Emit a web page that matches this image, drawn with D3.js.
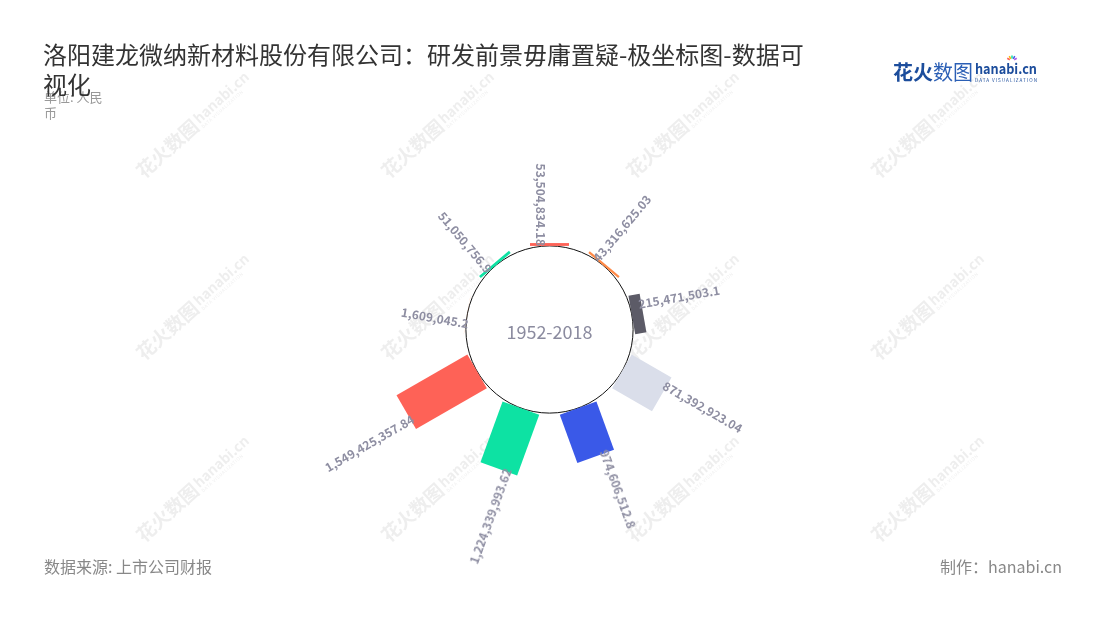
<!DOCTYPE html>
<html>
<head>
<meta charset="utf-8">
<script src="https://cdn.jsdelivr.net/npm/d3@7"></script>
<style>
  html, body { margin: 0; padding: 0; background: #fff; }
  svg { display: block; font-family: "Noto Sans CJK SC", "Noto Sans", sans-serif; }
</style>
</head>
<body>
<svg id="chart" width="1100" height="620"></svg>
<script>
// ---- data ----
const categories = ["c1", "c2", "c3", "c4", "c5", "c6", "c7", "c8", "c9"];
const values = [53504834.18, 43316625.03, 215471503.1, 871392923.04, 974606512.8,
                1224339993.62, 1549425357.84, 1609045.2, 51050756.9];
const colors = ["#fe6257", "#ff8a48", "#5c5b67", "#dadeea", "#3a59e8",
                "#0de2a3", "#fe6257", "#ff8a48", "#0de2a3"];
const titleLines = ["洛阳建龙微纳新材料股份有限公司：研发前景毋庸置疑-极坐标图-数据可", "视化"];
const subtitleLines = ["单位: 人民", "币"];
const centerLabel = "1952-2018";
const sourceText = "数据来源: 上市公司财报";
const makerText = "制作：hanabi.cn";

// ---- layout ----
const W = 1100, H = 620;
const cx = 549.5, cy = 329.5, innerR = 83.6;
const barWidth = 39;
const labelGap = 3, labelLateral = -9;

const svg = d3.select("#chart");

// watermarks
const wmX = [192, 437, 682, 927], wmY = [128, 310, 492];
const wm = svg.append("g").attr("opacity", 0.4);
wmY.forEach(y => wmX.forEach(x => {
  const g = wm.append("g").attr("transform", `translate(${x},${y}) rotate(-42)`);
  g.append("text").attr("x", -70).attr("y", 6).attr("font-size", 19).attr("font-weight", "bold")
    .attr("fill", "#d5d5d5").text("花火数图");
  g.append("text").attr("x", 8).attr("y", 2).attr("font-size", 14).attr("font-weight", "bold")
    .attr("fill", "#d5d5d5").text("hanabi.cn");
  g.append("text").attr("x", 8).attr("y", 8).attr("font-size", 4.5)
    .attr("fill", "#d5d5d5").attr("letter-spacing", 0.6).text("DATA VISUALIZATION");
}));

// scales
const angle = d3.scaleBand().domain(categories).range([0, 360]);
const radius = d3.scaleLinear().domain([0, 2e9]).range([innerR, innerR + 105.6]);

const data = categories.map((c, i) => ({ c, v: values[i], color: colors[i] }));

// center circle
svg.append("circle").attr("cx", cx).attr("cy", cy).attr("r", innerR)
  .attr("fill", "#fff").attr("stroke", "#111").attr("stroke-width", 1);

// bars
const bars = svg.append("g").attr("transform", `translate(${cx},${cy})`);
bars.selectAll("rect").data(data).join("rect")
  .attr("transform", d => `rotate(${angle(d.c)})`)
  .attr("x", -barWidth / 2)
  .attr("y", d => -radius(d.v))
  .attr("width", barWidth)
  .attr("height", d => radius(d.v) - radius(0))
  .attr("fill", d => d.color);

// labels
const fmt = d3.format(",");
const labels = svg.append("g").attr("transform", `translate(${cx},${cy})`);
labels.selectAll("text").data(data).join("text")
  .attr("transform", d => {
    const a = angle(d.c);
    const outward = a > 0 && a < 180;
    const r = radius(d.v) - labelGap;
    return `rotate(${a}) translate(${labelLateral},${-r}) rotate(${outward ? -90 : 90})`;
  })
  .attr("text-anchor", d => { const a = angle(d.c); return (a > 0 && a < 180) ? "start" : "end"; })
  .attr("dy", "0.35em")
  .attr("font-size", 12)
  .attr("font-weight", 600)
  .attr("fill", "#8e8ea2")
  .text(d => fmt(d.v));

// center label
svg.append("text").attr("x", cx).attr("y", cy + 3).attr("dy", "0.35em")
  .attr("text-anchor", "middle").attr("font-size", 18).attr("fill", "#8b8b9f")
  .text(centerLabel);

// subtitle
const sub = svg.append("text").attr("font-size", 13).attr("fill", "#999");
subtitleLines.forEach((t, i) => sub.append("tspan").attr("x", 44).attr("y", 102 + i * 16).text(t));

// title
const title = svg.append("text").attr("font-size", 24).attr("fill", "#333");
titleLines.forEach((t, i) => title.append("tspan").attr("x", 43).attr("y", 64 + i * 30).text(t));

// logo
const logo = svg.append("g");
logo.append("text").attr("x", 893).attr("y", 80).attr("font-size", 20).attr("fill", "#1c4d9c")
  .call(t => {
    t.append("tspan").attr("font-weight", "bold").text("花火");
    t.append("tspan").attr("fill", "#2b5fb5").text("数图");
  });
logo.append("text").attr("x", 975).attr("y", 74).attr("font-size", 14).attr("font-weight", "bold")
  .attr("textLength", 62).attr("lengthAdjust", "spacingAndGlyphs")
  .attr("fill", "#1c4d9c").text("hanabi.cn");
logo.append("text").attr("x", 975).attr("y", 81.5).attr("font-size", 4.6)
  .attr("textLength", 62).attr("lengthAdjust", "spacing")
  .attr("fill", "#1c4d9c").text("DATA VISUALIZATION");
const sparkColors = ["#ff6257", "#ffb400", "#0de2a3", "#3a59e8", "#b05be8"];
sparkColors.forEach((c, i) => {
  const a = -150 + i * 30;
  logo.append("line")
    .attr("x1", 1012 + 2.5 * Math.cos(a * Math.PI / 180)).attr("y1", 61 + 2.5 * Math.sin(a * Math.PI / 180))
    .attr("x2", 1012 + 5.5 * Math.cos(a * Math.PI / 180)).attr("y2", 61 + 5.5 * Math.sin(a * Math.PI / 180))
    .attr("stroke", c).attr("stroke-width", 1.5);
});

// footer
svg.append("text").attr("x", 44).attr("y", 573).attr("font-size", 16).attr("fill", "#888").text(sourceText);
svg.append("text").attr("x", 1062).attr("y", 573).attr("text-anchor", "end").attr("font-size", 16)
  .attr("fill", "#888").text(makerText);
</script>
</body>
</html>
